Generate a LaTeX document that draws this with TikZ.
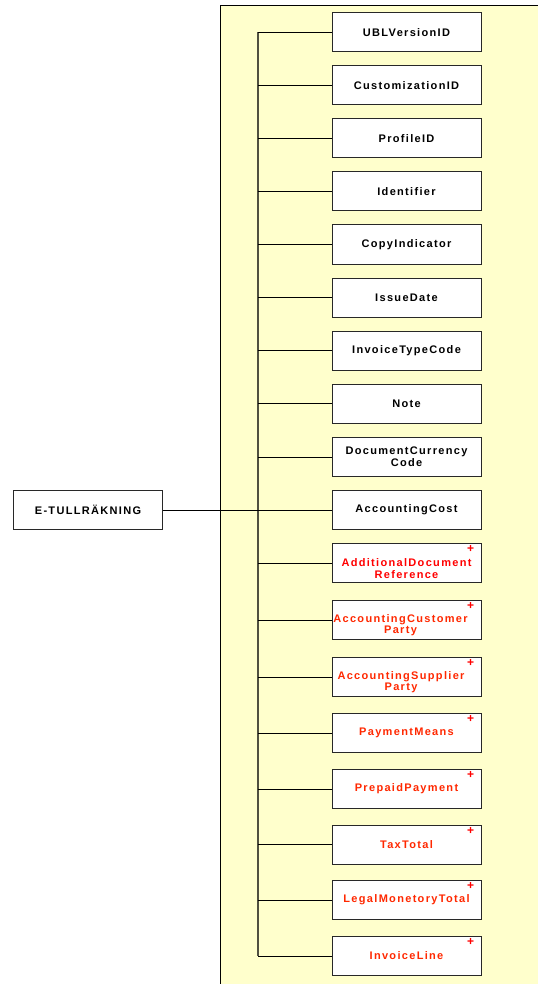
\documentclass[tikz,border=0pt]{standalone}
\usepackage{fontspec}
\setmainfont{Liberation Sans}[LetterSpace=12]
\definecolor{panelyellow}{RGB}{255,255,204}
\definecolor{trunkgray}{RGB}{80,80,64}
\definecolor{boxline}{RGB}{40,40,40}
\definecolor{redtext}{RGB}{255,0,0}
\definecolor{orangered}{RGB}{255,40,0}
\begin{document}
\begin{tikzpicture}[x=1pt,y=-1pt,
  elemfont/.style={font=\bfseries\fontsize{11}{11.2}\selectfont},
  elem/.style={rectangle, draw=boxline, line width=1pt, fill=white, minimum width=149pt,
    minimum height=39pt, inner sep=0pt, align=center, elemfont},
  redelem/.style={elem, text=orangered},
  boxtext/.style={inner sep=0pt, align=center, elemfont, text=orangered},
  plusmark/.style={text=red, inner sep=0pt, font=\bfseries\fontsize{12}{12}\selectfont},
  conn/.style={draw=black, line width=0.9pt},
  trunk/.style={draw=trunkgray, line width=1.4pt}]
\useasboundingbox (0,0) rectangle (538,984);
% panel
\fill[panelyellow] (220,6) rectangle (538,984);
\draw[black, line width=1pt] (220,984) -- (220,6) -- (538,6);
% root
\node[elem] (root) at (88,510) {E-TULLRÄKNING};
% children
\node[elem] (b1) at (406.5,32.5) {UBLVersionID};
\node[elem] (b2) at (406.5,85.5) {CustomizationID};
\node[elem] (b3) at (406.5,138.5) {ProfileID};
\node[elem] (b4) at (406.5,191.5) {Identifier};
\node[elem] (b5) at (406.5,244.5) {CopyIndicator};
\node[elem] (b6) at (406.5,297.5) {IssueDate};
\node[elem] (b7) at (406.5,350.5) {InvoiceTypeCode};
\node[elem] (b8) at (406.5,403.5) {Note};
\node[elem, font=\bfseries\fontsize{11}{11.6}\selectfont] (b9) at (406.5,457) {DocumentCurrency\\Code};
\node[elem] (b10) at (406.5,510) {AccountingCost};
\node[redelem] (b11) at (406.5,563) {};
\node[boxtext, text=redtext] (t11) at (406.5,568.5) {AdditionalDocument\\Reference};
\node[redelem] (b12) at (406.5,620) {};
\node[boxtext] (t12) at (400.5,625.5) {AccountingCustomer\\Party};
\node[redelem] (b13) at (406.5,677) {};
\node[boxtext] (t13) at (401,682.5) {AccountingSupplier\\Party};
\node[redelem] (b14) at (406.5,733) {PaymentMeans};
\node[redelem] (b15) at (406.5,789) {PrepaidPayment};
\node[redelem] (b16) at (406.5,844.5) {TaxTotal};
\node[redelem] (b17) at (406.5,900) {LegalMonetoryTotal};
\node[redelem] (b18) at (406.5,956) {InvoiceLine};
% plus marks
\foreach \i in {11,...,18}{
  \node[plusmark] (p\i) at ([xshift=-11pt,yshift=-6pt]b\i.north east) {+};
}
% trunk
\coordinate (ttop) at (258,32.5);
\coordinate (tbot) at (258,956);
\draw[trunk] (ttop) -- (tbot);
\foreach \i in {1,...,18}{
  \draw[conn] (b\i.west) -- (b\i.west -| ttop);
}
\draw[conn] (root.east) -- (b10.west);
\end{tikzpicture}
\end{document}
